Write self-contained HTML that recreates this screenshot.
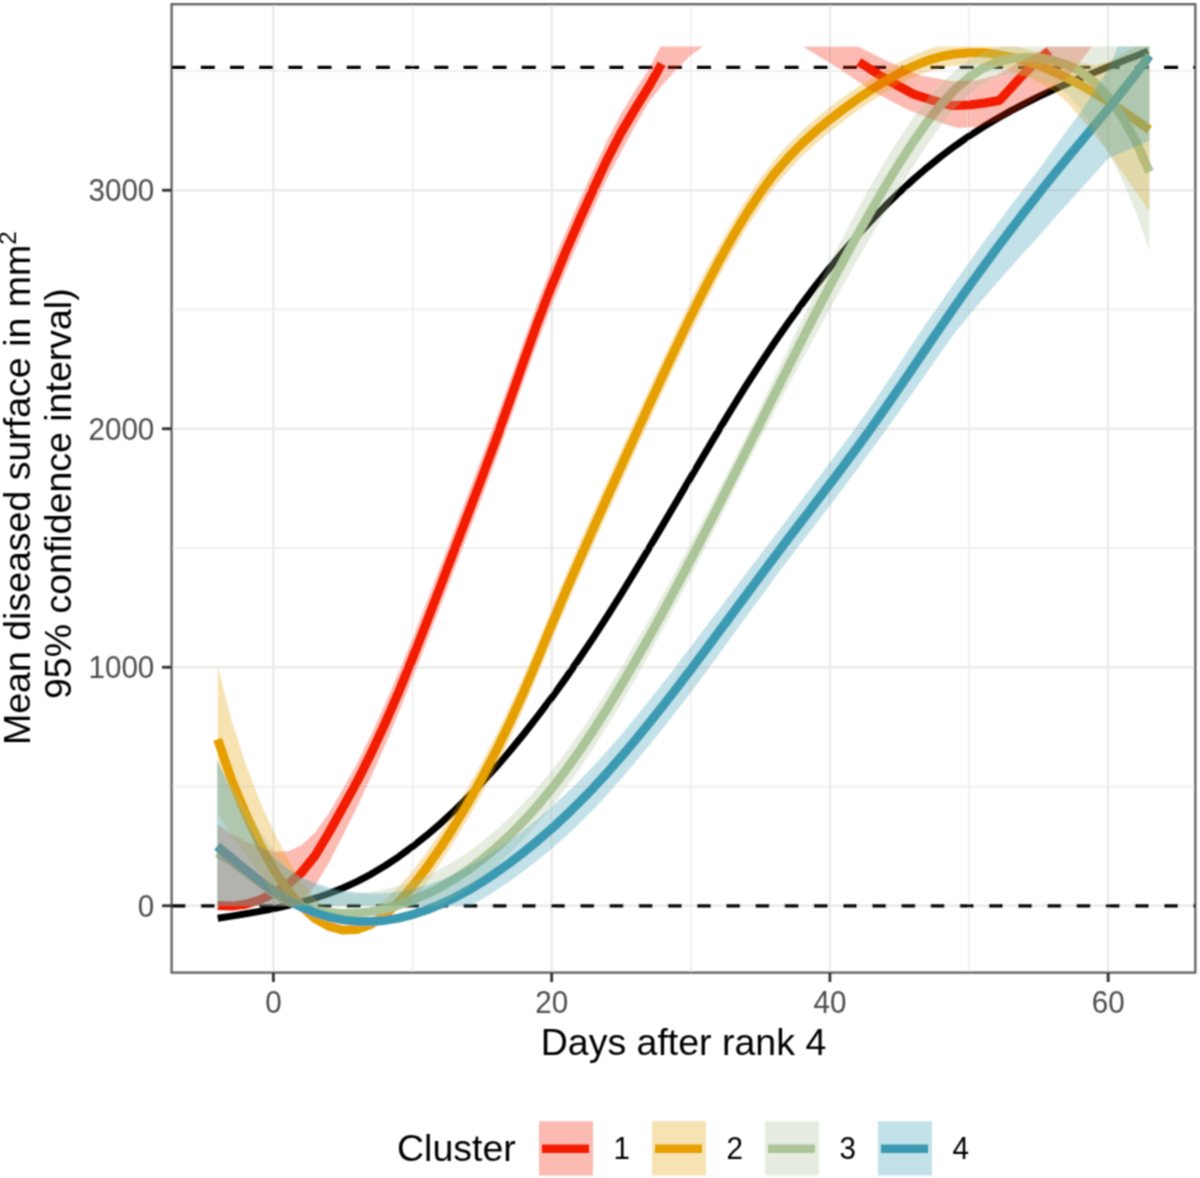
<!DOCTYPE html>
<html><head><meta charset="utf-8"><style>
html,body{margin:0;padding:0;background:#fff;}
body{width:1200px;height:1178px;overflow:hidden;font-family:"Liberation Sans",sans-serif;}
svg{display:block;}
</style></head><body>
<svg width="1200" height="1178" viewBox="0 0 1200 1178">
<defs><clipPath id="rc"><rect x="171.6" y="46.60" width="1023.7" height="859.15"/></clipPath>
<filter id="bl" x="-2%" y="-2%" width="104%" height="104%"><feConvolveMatrix order="3" kernelMatrix="1 2 1 2 4 2 1 2 1" divisor="16" edgeMode="duplicate" preserveAlpha="false"/></filter>
<clipPath id="pc"><rect x="171.6" y="4.2" width="1023.7" height="968.4"/></clipPath></defs>
<rect width="1200" height="1178" fill="#fff"/>
<g filter="url(#bl)">
<line x1="412.53" y1="4.2" x2="412.53" y2="972.6" stroke="#f0f0f0" stroke-width="2"/>
<line x1="690.79" y1="4.2" x2="690.79" y2="972.6" stroke="#f0f0f0" stroke-width="2"/>
<line x1="969.05" y1="4.2" x2="969.05" y2="972.6" stroke="#f0f0f0" stroke-width="2"/>
<line x1="171.6" y1="786.50" x2="1195.3" y2="786.50" stroke="#f0f0f0" stroke-width="2"/>
<line x1="171.6" y1="548.00" x2="1195.3" y2="548.00" stroke="#f0f0f0" stroke-width="2"/>
<line x1="171.6" y1="309.50" x2="1195.3" y2="309.50" stroke="#f0f0f0" stroke-width="2"/>
<line x1="171.6" y1="71.00" x2="1195.3" y2="71.00" stroke="#f0f0f0" stroke-width="2"/>
<line x1="273.40" y1="4.2" x2="273.40" y2="972.6" stroke="#ebebeb" stroke-width="2.5"/>
<line x1="551.66" y1="4.2" x2="551.66" y2="972.6" stroke="#ebebeb" stroke-width="2.5"/>
<line x1="829.92" y1="4.2" x2="829.92" y2="972.6" stroke="#ebebeb" stroke-width="2.5"/>
<line x1="1108.18" y1="4.2" x2="1108.18" y2="972.6" stroke="#ebebeb" stroke-width="2.5"/>
<line x1="171.6" y1="905.75" x2="1195.3" y2="905.75" stroke="#ebebeb" stroke-width="2.5"/>
<line x1="171.6" y1="667.25" x2="1195.3" y2="667.25" stroke="#ebebeb" stroke-width="2.5"/>
<line x1="171.6" y1="428.75" x2="1195.3" y2="428.75" stroke="#ebebeb" stroke-width="2.5"/>
<line x1="171.6" y1="190.25" x2="1195.3" y2="190.25" stroke="#ebebeb" stroke-width="2.5"/>
<line x1="171.6" y1="67.4" x2="1195.3" y2="67.4" stroke="#000" stroke-width="3.2" stroke-dasharray="14.0 15.19"/>
<line x1="171.6" y1="905.9" x2="1195.3" y2="905.9" stroke="#000" stroke-width="3.2" stroke-dasharray="14.0 15.19"/>
<g clip-path="url(#pc)" fill="none" stroke-linejoin="round" stroke-linecap="butt">
<polyline points="217.7,918.3 231.7,916.1 245.6,913.8 259.5,911.4 273.4,908.7 287.3,905.7 301.2,902.2 315.1,898.2 329.1,893.5 343.0,888.0 356.9,881.6 370.8,874.3 384.7,866.0 398.6,856.8 412.5,846.6 426.4,835.6 440.4,823.6 454.3,810.8 468.2,797.1 482.1,782.5 496.0,767.2 509.9,751.0 523.8,734.0 537.7,716.2 551.7,697.7 565.6,678.4 579.5,658.3 593.4,637.6 607.3,616.1 621.2,594.0 635.1,571.2 649.1,548.0 663.0,524.6 676.9,500.9 690.8,477.2 704.7,453.7 718.6,430.4 732.5,407.5 746.4,385.2 760.4,363.6 774.3,342.7 788.2,322.8 802.1,303.6 816.0,285.2 829.9,267.7 843.8,251.0 857.7,235.1 871.7,220.0 885.6,205.6 899.5,192.1 913.4,179.4 927.3,167.4 941.2,156.2 955.1,145.8 969.0,136.1 983.0,127.1 996.9,118.7 1010.8,110.9 1024.7,103.6 1038.6,96.7 1052.5,90.2 1066.4,84.0 1080.4,78.1 1094.3,72.4 1108.2,66.8 1122.1,61.3 1136.0,55.9 1148.0,51.1" stroke="#000" stroke-width="7"/>
<polyline points="217.7,905.4 231.7,906.1 245.6,904.2 259.5,900.0 273.4,893.5 287.3,884.8 301.2,872.9 315.1,855.7 329.1,832.3 343.0,807.3 356.9,781.9 370.8,754.1 384.7,724.2 398.6,692.2 412.5,658.3 426.4,622.9 440.4,586.5 454.3,549.9 468.2,513.6 482.1,477.0 496.0,439.6 509.9,400.6 523.8,360.9 537.7,322.1 551.7,285.7 565.6,251.9 579.5,219.9 593.4,189.1 607.3,159.2 621.2,132.4 635.1,108.9 649.1,86.2 661.7,63.9" stroke="#F21A00" stroke-width="9"/>
<polyline points="858.8,62.0 888.0,80.2 913.7,94.2 930.0,99.6 951.7,105.6 969.5,105.0 985.0,103.0 999.3,100.5 1011.3,87.7 1022.0,75.8 1033.0,65.0 1049.2,50.8" stroke="#F21A00" stroke-width="9"/>
<polyline points="217.7,739.3 231.7,780.3 245.6,813.4 259.5,843.3 273.4,869.2 287.3,890.0 301.2,906.3 315.1,918.5 329.1,926.4 343.0,930.1 356.9,929.5 370.8,924.5 384.7,915.1 398.6,902.1 412.5,886.1 426.4,867.9 440.4,847.8 454.3,826.0 468.2,802.7 482.1,777.7 496.0,751.0 509.9,722.4 523.8,691.8 537.7,659.0 551.7,624.8 565.6,591.7 579.5,559.6 593.4,528.2 607.3,497.2 621.2,466.4 635.1,435.7 649.1,405.2 663.0,375.0 676.9,345.3 690.8,316.4 704.7,288.5 718.6,261.9 732.5,236.9 746.4,213.7 760.4,192.6 774.3,173.8 788.2,157.6 802.1,143.4 816.0,130.8 829.9,119.4 843.8,108.8 857.7,98.8 871.7,89.5 885.6,80.9 899.5,73.1 913.4,66.3 927.3,60.6 941.2,56.5 955.1,53.9 969.0,52.7 983.0,52.8 996.9,54.3 1010.8,56.9 1024.7,60.6 1038.6,65.4 1052.5,71.1 1066.4,77.6 1080.4,84.9 1094.3,92.9 1108.2,101.5 1122.1,110.6 1136.0,120.2 1149.5,129.8" stroke="#E69F00" stroke-width="9"/>
<polyline points="217.1,852.9 217.7,853.2 231.7,861.5 245.6,871.6 259.5,882.4 273.4,892.5 287.3,900.7 301.2,906.6 315.1,910.5 329.1,912.6 343.0,913.5 356.9,913.1 370.8,911.6 384.7,908.9 398.6,905.1 412.5,900.2 426.4,894.2 440.4,887.2 454.3,879.1 468.2,869.9 482.1,859.5 496.0,847.9 509.9,835.1 523.8,821.0 537.7,805.5 551.7,788.7 565.6,770.5 579.5,751.0 593.4,730.2 607.3,708.3 621.2,685.4 635.1,661.6 649.1,637.1 663.0,611.8 676.9,585.9 690.8,559.6 704.7,532.8 718.6,505.6 732.5,478.1 746.4,450.4 760.4,422.7 774.3,394.9 788.2,367.2 802.1,339.8 816.0,312.6 829.9,285.9 843.8,259.8 857.7,234.3 871.7,209.6 885.6,185.8 899.5,163.0 913.4,141.6 927.3,121.9 941.2,104.4 955.1,89.4 969.0,77.3 983.0,68.3 996.9,62.2 1010.8,58.7 1024.7,57.5 1038.6,58.0 1052.5,60.3 1066.4,64.6 1080.4,71.6 1094.3,82.2 1108.2,96.9 1122.1,116.4 1136.0,141.5 1149.5,171.8" stroke="#ABC498" stroke-width="9"/>
<polyline points="217.1,846.3 217.7,846.8 231.7,858.3 245.6,869.7 259.5,880.6 273.4,890.6 287.3,899.5 301.2,906.9 315.1,912.7 329.1,917.0 343.0,919.9 356.9,921.4 370.8,921.5 384.7,920.4 398.6,918.1 412.5,914.6 426.4,910.0 440.4,904.4 454.3,897.8 468.2,890.3 482.1,881.9 496.0,872.7 509.9,862.8 523.8,852.1 537.7,840.7 551.7,828.6 565.6,815.8 579.5,802.1 593.4,787.8 607.3,772.6 621.2,756.7 635.1,740.3 649.1,723.2 663.0,705.7 676.9,687.8 690.8,669.5 704.7,651.0 718.6,632.3 732.5,613.5 746.4,594.7 760.4,575.9 774.3,557.3 788.2,538.8 802.1,520.6 816.0,502.3 829.9,484.0 843.8,465.5 857.7,446.7 871.7,427.4 885.6,407.6 899.5,387.5 913.4,367.1 927.3,346.6 941.2,326.2 955.1,306.1 969.0,286.4 983.0,267.1 996.9,248.2 1010.8,229.7 1024.7,211.5 1038.6,193.7 1052.5,176.3 1066.4,159.2 1080.4,142.4 1094.3,125.6 1108.2,108.8 1122.1,91.6 1136.0,73.7 1149.5,55.5" stroke="#3B9AB2" stroke-width="9"/>
</g>
<g clip-path="url(#rc)" stroke="none" fill-opacity="0.3">
<polygon points="217.7,824.4 231.7,834.2 245.6,841.4 259.5,847.3 273.4,851.6 287.3,851.5 301.2,845.4 315.1,832.5 329.1,813.1 343.0,788.8 356.9,763.8 370.8,735.5 384.7,705.0 398.6,672.6 412.5,638.3 426.4,602.9 440.4,566.5 454.3,529.9 468.2,493.6 482.1,457.0 496.0,419.6 509.9,380.6 523.8,340.9 537.7,302.1 551.7,265.7 565.6,232.2 579.5,200.5 593.4,170.0 607.3,140.2 621.2,113.4 635.1,90.6 649.1,68.8 661.7,43.9 663.0,0.0 703.0,0.0 703.0,46.6 690.0,56.0 676.0,70.0 666.5,80.4 661.7,85.9 649.1,101.4 635.1,126.0 621.2,151.4 607.3,178.2 593.4,208.2 579.5,239.3 565.6,271.6 551.7,305.6 537.7,342.1 523.8,380.9 509.9,420.6 496.0,459.6 482.1,497.0 468.2,533.6 454.3,569.9 440.4,606.5 426.4,642.9 412.5,678.3 398.6,712.9 384.7,745.9 370.8,777.6 356.9,807.6 343.0,835.2 329.1,862.3 315.1,885.7 301.2,902.6 287.3,913.4 273.4,922.0 259.5,929.4 245.6,934.2 231.7,936.1 217.7,935.4" fill="#F21A00"/>
<polygon points="802.8,46.6 858.0,46.6 888.0,61.5 920.7,75.5 953.3,81.3 976.7,80.2 995.3,75.5 1023.3,60.3 1046.7,46.6 1092.0,46.6 1070.0,75.0 1046.7,93.0 1023.3,107.0 1000.0,120.0 976.7,127.0 958.0,128.0 941.7,123.3 906.7,109.3 871.7,90.7 836.7,67.3" fill="#F21A00"/>
<polygon points="217.7,666.3 231.7,721.1 245.6,763.6 259.5,800.5 273.4,830.8 287.3,857.5 301.2,881.5 315.1,899.1 329.1,908.8 343.0,914.2 356.9,914.5 370.8,909.5 384.7,900.1 398.6,887.1 412.5,871.1 426.4,852.8 440.4,832.6 454.3,810.6 468.2,787.1 482.1,762.0 496.0,735.1 509.9,706.4 523.8,675.7 537.7,642.8 551.7,608.6 565.6,575.4 579.5,543.2 593.4,511.8 607.3,480.7 621.2,450.0 635.1,419.4 649.1,389.0 663.0,358.8 676.9,329.2 690.8,300.3 704.7,272.6 718.6,246.5 732.5,221.9 746.4,199.1 760.4,178.4 774.3,160.1 788.2,144.2 802.1,130.4 816.0,118.2 829.9,107.0 843.8,96.7 857.7,87.0 871.7,77.9 885.6,69.7 899.5,62.1 913.4,55.3 927.3,49.6 941.2,45.5 955.1,42.9 969.0,41.7 983.0,41.8 996.9,43.3 1010.8,45.4 1024.7,48.4 1038.6,52.4 1052.5,57.4 1066.4,61.0 1080.4,62.8 1094.3,65.2 1108.2,61.6 1122.1,53.8 1136.0,46.5 1149.5,39.8 1149.5,211.8 1136.0,192.1 1122.1,172.1 1108.2,152.6 1094.3,134.3 1080.4,117.6 1066.4,101.6 1052.5,90.1 1038.6,82.5 1024.7,75.9 1010.8,70.3 996.9,66.2 983.0,64.7 969.0,64.4 955.1,65.4 941.2,67.9 927.3,71.9 913.4,77.4 899.5,84.1 885.6,92.2 871.7,101.1 857.7,110.6 843.8,120.9 829.9,131.8 816.0,143.5 802.1,156.3 788.2,170.9 774.3,187.6 760.4,206.8 746.4,228.3 732.5,251.9 718.6,277.3 704.7,304.3 690.8,332.4 676.9,361.4 663.0,391.2 649.1,421.5 635.1,452.1 621.2,482.8 607.3,513.6 593.4,544.7 579.5,576.0 565.6,608.0 551.7,641.1 537.7,675.2 523.8,707.9 509.9,738.5 496.0,767.0 482.1,793.5 468.2,818.3 454.3,841.5 440.4,863.1 426.4,883.0 412.5,901.1 398.6,917.1 384.7,930.1 370.8,939.5 356.9,944.5 343.0,945.1 329.1,941.4 315.1,933.5 301.2,924.3 287.3,912.8 273.4,895.7 259.5,872.6 245.6,853.8 231.7,836.0 217.7,813.3" fill="#E69F00"/>
<polygon points="217.1,761.9 217.7,762.8 231.7,784.2 245.6,807.4 259.5,829.5 273.4,850.0 287.3,868.7 301.2,878.5 315.1,884.6 329.1,889.2 343.0,892.3 356.9,893.2 370.8,892.0 384.7,889.6 398.6,886.1 412.5,881.5 426.4,875.8 440.4,869.0 454.3,861.1 468.2,851.9 482.1,841.5 496.0,829.9 509.9,817.1 523.8,803.0 537.7,787.5 551.7,770.7 565.6,752.5 579.5,733.0 593.4,712.2 607.3,690.3 621.2,667.4 635.1,643.8 649.1,619.5 663.0,594.6 676.9,569.1 690.8,543.1 704.7,516.6 718.6,489.8 732.5,462.7 746.4,435.4 760.4,406.6 774.3,377.4 788.2,348.4 802.1,319.5 816.0,290.7 829.9,262.8 843.8,235.4 857.7,209.1 871.7,184.0 885.6,159.9 899.5,137.9 913.4,117.2 927.3,99.0 941.2,83.6 955.1,70.7 969.0,60.2 983.0,52.6 996.9,47.9 1010.8,44.4 1024.7,42.6 1038.6,42.8 1052.5,44.5 1066.4,44.7 1080.4,43.4 1094.3,45.6 1108.2,42.0 1122.1,36.3 1136.0,36.1 1149.5,41.8 1149.5,250.8 1136.0,212.6 1122.1,179.4 1108.2,151.7 1094.3,128.6 1080.4,109.4 1066.4,93.6 1052.5,83.9 1038.6,79.1 1024.7,76.0 1010.8,74.7 996.9,76.6 983.0,84.0 969.0,94.4 955.1,108.2 941.2,125.3 927.3,144.9 913.4,165.9 899.5,188.1 885.6,211.6 871.7,235.3 857.7,259.6 843.8,284.3 829.9,309.1 816.0,334.5 802.1,360.0 788.2,386.0 774.3,412.3 760.4,438.7 746.4,465.5 732.5,493.6 718.6,521.4 704.7,548.9 690.8,576.0 676.9,602.8 663.0,629.0 649.1,654.6 635.1,679.5 621.2,703.4 607.3,726.3 593.4,748.2 579.5,769.0 565.6,788.5 551.7,806.7 537.7,823.5 523.8,839.0 509.9,853.1 496.0,865.9 482.1,877.5 468.2,887.9 454.3,897.1 440.4,905.4 426.4,912.7 412.5,919.0 398.6,924.1 384.7,928.2 370.8,931.2 356.9,933.0 343.0,934.6 329.1,936.1 315.1,936.3 301.2,934.7 287.3,931.7 273.4,928.7 259.5,923.8 245.6,918.6 231.7,914.8 217.7,912.9 217.1,912.9" fill="#ABC498"/>
<polygon points="217.1,760.3 217.7,761.7 231.7,792.0 245.6,820.3 259.5,845.1 273.4,857.3 287.3,867.9 301.2,876.9 315.1,882.9 329.1,887.5 343.0,890.6 356.9,892.5 370.8,893.5 384.7,893.2 398.6,891.8 412.5,889.1 426.4,885.3 440.4,880.2 454.3,874.1 468.2,867.1 482.1,859.2 496.0,850.5 509.9,840.8 523.8,830.2 537.7,818.9 551.7,806.8 565.6,794.0 579.5,780.5 593.4,766.1 607.3,750.8 621.2,734.7 635.1,718.0 649.1,700.8 663.0,683.1 676.9,665.0 690.8,646.5 704.7,628.3 718.6,609.9 732.5,591.4 746.4,572.9 760.4,554.5 774.3,536.2 788.2,517.7 802.1,499.3 816.0,480.9 829.9,462.5 843.8,443.8 857.7,424.8 871.7,405.3 885.6,384.7 899.5,363.7 913.4,342.4 927.3,321.8 941.2,301.9 955.1,282.1 969.0,262.4 983.0,243.1 996.9,224.2 1010.8,205.7 1024.7,187.5 1038.6,169.7 1052.5,150.4 1066.4,131.2 1080.4,112.2 1094.3,90.9 1108.2,69.4 1122.1,36.2 1136.0,0.8 1149.5,-34.5 1149.5,140.5 1136.0,146.7 1122.1,152.3 1108.2,158.6 1094.3,174.1 1080.4,189.4 1066.4,204.8 1052.5,220.5 1038.6,236.4 1024.7,251.5 1010.8,266.9 996.9,282.8 983.0,299.0 969.0,315.5 955.1,332.5 941.2,351.9 927.3,371.8 913.4,391.7 899.5,411.2 885.6,430.6 871.7,449.5 857.7,468.6 843.8,487.2 829.9,505.6 816.0,523.7 802.1,541.8 788.2,559.9 774.3,578.4 760.4,597.4 746.4,616.5 732.5,635.6 718.6,654.7 704.7,673.7 690.8,692.5 676.9,710.5 663.0,728.3 649.1,745.6 635.1,762.5 621.2,778.8 607.3,794.4 593.4,809.4 579.5,823.3 565.6,836.4 551.7,848.7 537.7,860.2 523.8,871.1 509.9,881.2 496.0,890.5 482.1,899.2 468.2,907.1 454.3,914.1 440.4,920.2 426.4,925.3 412.5,929.9 398.6,934.1 384.7,937.0 370.8,938.8 356.9,939.3 343.0,939.4 329.1,938.3 315.1,935.7 301.2,931.7 287.3,929.3 273.4,925.6 259.5,920.8 245.6,916.9 231.7,912.0 217.7,906.6 217.1,906.3" fill="#3B9AB2"/>
</g>
<rect x="171.6" y="4.2" width="1023.7" height="968.4" fill="none" stroke="#333" stroke-opacity="0.78" stroke-width="2.3"/>
<line x1="162" y1="905.75" x2="171.6" y2="905.75" stroke="#333" stroke-width="2.8"/>
<line x1="162" y1="667.25" x2="171.6" y2="667.25" stroke="#333" stroke-width="2.8"/>
<line x1="162" y1="428.75" x2="171.6" y2="428.75" stroke="#333" stroke-width="2.8"/>
<line x1="162" y1="190.25" x2="171.6" y2="190.25" stroke="#333" stroke-width="2.8"/>
<line x1="273.40" y1="972.6" x2="273.40" y2="982" stroke="#333" stroke-width="2.8"/>
<line x1="551.66" y1="972.6" x2="551.66" y2="982" stroke="#333" stroke-width="2.8"/>
<line x1="829.92" y1="972.6" x2="829.92" y2="982" stroke="#333" stroke-width="2.8"/>
<line x1="1108.18" y1="972.6" x2="1108.18" y2="982" stroke="#333" stroke-width="2.8"/>
<g font-family="Liberation Sans, sans-serif" font-size="31.5" fill="#4d4d4d">
<text transform="translate(154.3,916.65) scale(0.94,1)" text-anchor="end">0</text>
<text transform="translate(154.3,678.15) scale(0.94,1)" text-anchor="end">1000</text>
<text transform="translate(154.3,439.65) scale(0.94,1)" text-anchor="end">2000</text>
<text transform="translate(154.3,201.15) scale(0.94,1)" text-anchor="end">3000</text>
<text transform="translate(273.40,1012.6) scale(0.94,1)" text-anchor="middle">0</text>
<text transform="translate(551.66,1012.6) scale(0.94,1)" text-anchor="middle">20</text>
<text transform="translate(829.92,1012.6) scale(0.94,1)" text-anchor="middle">40</text>
<text transform="translate(1108.18,1012.6) scale(0.94,1)" text-anchor="middle">60</text>
</g>
<g font-family="Liberation Sans, sans-serif" font-size="37.5" fill="#000">
<text x="683.5" y="1055.2" text-anchor="middle">Days after rank 4</text>
<text transform="translate(29.9,745) rotate(-90)" x="0" y="0">Mean diseased surface in mm<tspan font-size="24" dy="-14">2</tspan></text>
<text transform="translate(70.9,699) rotate(-90)" x="0" y="0">95% confidence interval)</text>
<text x="397" y="1160.6">Cluster</text>
</g>
<rect x="539" y="1121.3" width="54" height="54.2" fill="#F21A00" fill-opacity="0.3"/>
<line x1="542" y1="1148.7" x2="589" y2="1148.7" stroke="#F21A00" stroke-width="8.5"/>
<rect x="652" y="1121.3" width="54" height="54.2" fill="#E69F00" fill-opacity="0.3"/>
<line x1="655" y1="1148.7" x2="702" y2="1148.7" stroke="#E69F00" stroke-width="8.5"/>
<rect x="765" y="1121.3" width="54" height="54.2" fill="#ABC498" fill-opacity="0.3"/>
<line x1="768" y1="1148.7" x2="815" y2="1148.7" stroke="#ABC498" stroke-width="8.5"/>
<rect x="878" y="1121.3" width="54" height="54.2" fill="#3B9AB2" fill-opacity="0.3"/>
<line x1="881" y1="1148.7" x2="928" y2="1148.7" stroke="#3B9AB2" stroke-width="8.5"/>
<g font-family="Liberation Sans, sans-serif" font-size="31.5" fill="#000">
<text transform="translate(613.5,1158.8) scale(0.94,1)">1</text>
<text transform="translate(726.5,1158.8) scale(0.94,1)">2</text>
<text transform="translate(839.5,1158.8) scale(0.94,1)">3</text>
<text transform="translate(952.5,1158.8) scale(0.94,1)">4</text>
</g>
</g>
</svg>
</body></html>
